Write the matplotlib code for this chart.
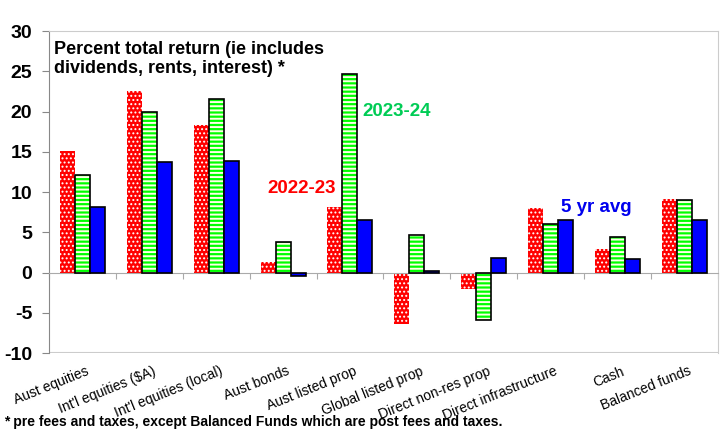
import numpy as np
import matplotlib
matplotlib.use("Agg")
import matplotlib.pyplot as plt
import matplotlib.transforms as mtransforms

plt.rcParams['font.family'] = ['Liberation Sans', 'DejaVu Sans']

categories = ["Aust equities", "Int'l equities ($A)", "Int'l equities (local)",
              "Aust bonds", "Aust listed prop", "Global listed prop",
              "Direct non-res prop", "Direct infrastructure", "Cash",
              "Balanced funds"]
fy2023 = [15.1, 22.6, 18.3, 1.3, 8.1, -6.4, -2.0, 8.0, 2.9, 9.1]
fy2024 = [12.1, 19.9, 21.5, 3.8, 24.7, 4.6, -5.9, 6.0, 4.4, 9.0]
avg5 = [8.2, 13.7, 13.8, -0.4, 6.5, 0.2, 1.8, 6.5, 1.7, 6.5]
yticks = [-10, -5, 0, 5, 10, 15, 20, 25, 30]

fig = plt.figure(figsize=(7.23, 4.4), dpi=100)
ax = fig.add_axes([0.0678, 0.1977, 0.925, 0.7318])

x = np.arange(len(categories))
w = 0.224

# 2022-23: red with white dots
with plt.rc_context({'hatch.linewidth': 0.9}):
    ax.bar(x - w, fy2023, w, color='#ff0000', edgecolor='white', hatch='....', linewidth=0, zorder=2)
# 2023-24: green with pale stripes, black outline
with plt.rc_context({'hatch.linewidth': 1.4}):
    ax.bar(x, fy2024, w, color='#00ff00', edgecolor='#ffffe8', hatch='----', linewidth=0, zorder=2)
ax.bar(x, fy2024, w, fill=False, edgecolor='black', linewidth=1.2, zorder=3)
# 5 yr avg: solid blue
ax.bar(x + w, avg5, w, color='#0000ff', edgecolor='black', linewidth=1.2, zorder=3)

ax.set_xlim(-0.5, len(categories) - 0.5)
ax.set_ylim(-10, 30)
ax.set_yticks(yticks)
ax.set_yticklabels([str(v) for v in yticks], fontsize=14, fontweight='bold')
ax.tick_params(axis='y', length=5, color='#888888', pad=7)

ax.spines['bottom'].set_position(('data', 0))
ax.spines['bottom'].set_color('#aaaaaa')
ax.spines['left'].set_color('#888888')
ax.spines['top'].set_color('#cccccc')
ax.spines['right'].set_color('#cccccc')
ax.axhline(-10, color='#cccccc', linewidth=1.5, zorder=1)
ax.set_xticks(np.arange(len(categories) + 1) - 0.5)
ax.set_xticklabels([])
ax.tick_params(axis='x', length=4, color='#aaaaaa')

trans = mtransforms.blended_transform_factory(ax.transData, ax.transAxes)
for i, c in enumerate(categories):
    ax.text(i + 0.05, -0.035, c, transform=trans, rotation=22, rotation_mode='anchor',
            ha='right', va='top', fontsize=10)

ax.text(0.008, 0.97, "Percent total return (ie includes\ndividends, rents, interest) *",
        transform=ax.transAxes, ha='left', va='top', fontsize=13, fontweight='bold',
        linespacing=1.15)
ax.text(3.28, 10.4, "2022-23", color='#ff0000', fontsize=13.5, fontweight='bold', ha='center', va='center')
ax.text(4.7, 20.0, "2023-24", color='#00cc55', fontsize=13.5, fontweight='bold', ha='center', va='center')
ax.text(7.69, 8.1, "5 yr avg", color='#0000ee', fontsize=13.5, fontweight='bold', ha='center', va='center')

fig.text(0.005, 0.042, "* pre fees and taxes, except Balanced Funds which are post fees and taxes.",
         ha='left', va='center', fontsize=10, fontweight='bold')

fig.savefig("out.png", dpi=100)
